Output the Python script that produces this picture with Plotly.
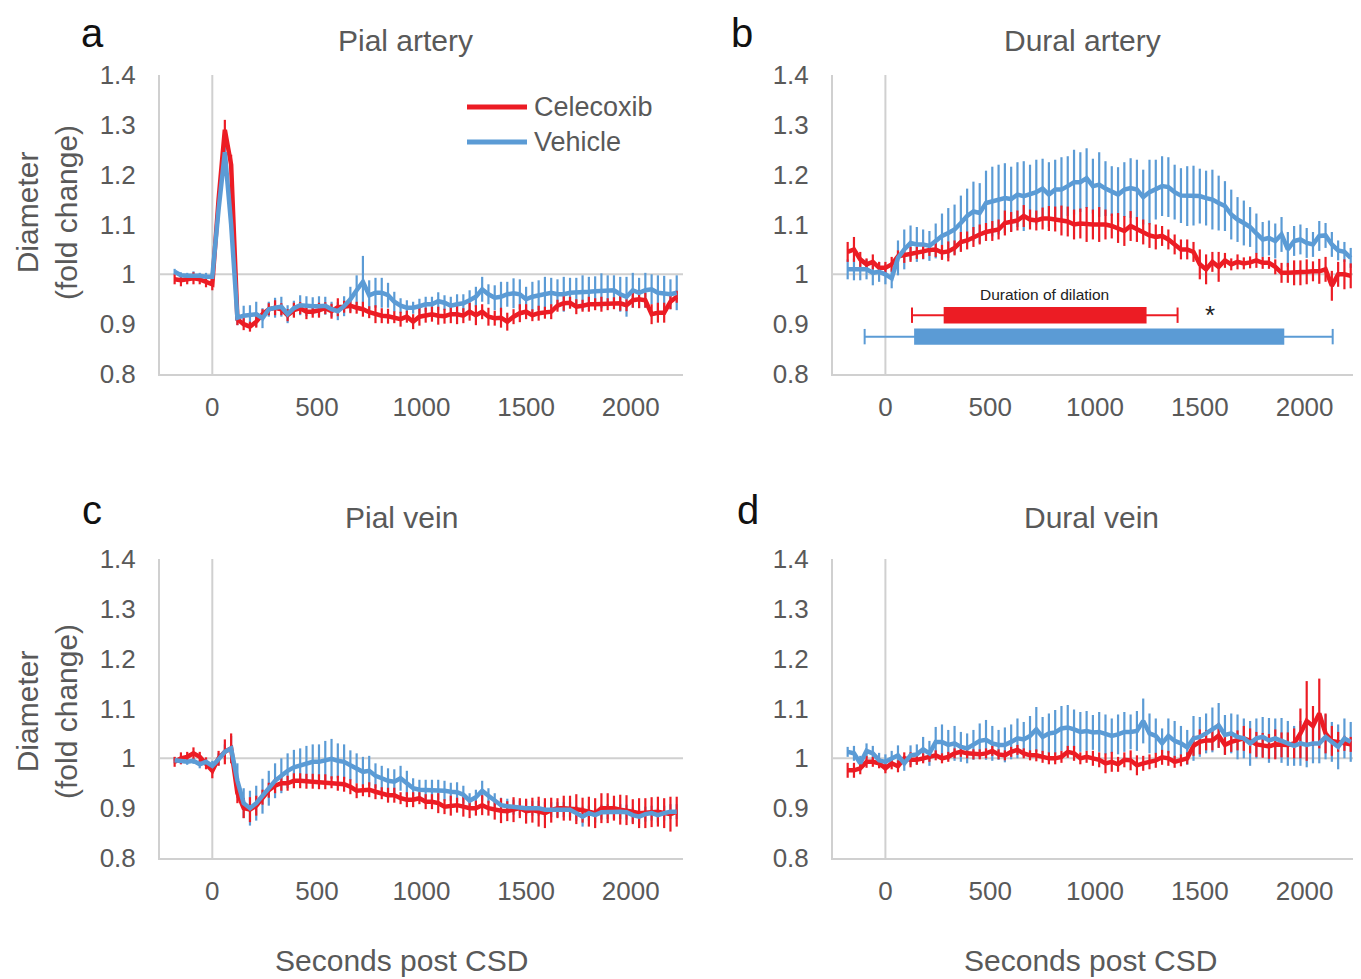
import plotly.graph_objects as go
from plotly.subplots import make_subplots

# time axis, seconds relative to CSD onset (30 s sampling)
seconds = list(range(-180, 2221, 30))

# ---- a: pial artery
pial_artery_celecoxib = [
    0.990, 0.988, 0.990, 0.992, 0.990, 0.986, 0.980,
    1.150, 1.290, 1.220, 0.910,
    0.900, 0.895, 0.905, 0.920, 0.930, 0.933, 0.930, 0.918, 0.928, 0.932,
    0.925, 0.925, 0.928, 0.932, 0.926, 0.934, 0.935, 0.937, 0.933, 0.930,
    0.924, 0.920, 0.917, 0.916, 0.914, 0.910, 0.915, 0.905, 0.915, 0.918,
    0.920, 0.917, 0.916, 0.920, 0.920, 0.917, 0.925, 0.918, 0.925, 0.915,
    0.912, 0.913, 0.905, 0.915, 0.922, 0.925, 0.918, 0.922, 0.923, 0.925,
    0.937, 0.942, 0.943, 0.935, 0.937, 0.940, 0.940, 0.940, 0.940, 0.942,
    0.942, 0.938, 0.948, 0.950, 0.948, 0.920, 0.923, 0.923, 0.945, 0.955]
pial_artery_celecoxib_sem = [
    0.010, 0.012, 0.010, 0.012, 0.010, 0.012, 0.012,
    0.015, 0.020, 0.020, 0.012,
    0.012, 0.010, 0.012, 0.010, 0.012, 0.015, 0.012, 0.012, 0.015, 0.012,
    0.015, 0.012, 0.015, 0.012, 0.015, 0.018, 0.012, 0.015, 0.012, 0.015,
    0.012, 0.018, 0.015, 0.015, 0.012, 0.015, 0.012, 0.015, 0.018, 0.015,
    0.015, 0.018, 0.015, 0.018, 0.020, 0.015, 0.018, 0.020, 0.015, 0.018,
    0.015, 0.020, 0.018, 0.015, 0.018, 0.015, 0.012, 0.015, 0.012, 0.015,
    0.012, 0.015, 0.012, 0.015, 0.012, 0.015, 0.012, 0.015, 0.012, 0.012,
    0.015, 0.012, 0.015, 0.018, 0.015, 0.020, 0.020, 0.020, 0.015, 0.012]
pial_artery_vehicle = [
    1.005, 0.998, 0.997, 0.998, 0.997, 0.995, 0.995,
    1.130, 1.245, 1.100, 0.913,
    0.917, 0.918, 0.920, 0.912, 0.930, 0.933, 0.935, 0.920, 0.932, 0.938,
    0.936, 0.936, 0.936, 0.937, 0.930, 0.926, 0.936, 0.950, 0.968, 0.985,
    0.958, 0.963, 0.963, 0.958, 0.945, 0.937, 0.933, 0.933, 0.936, 0.940,
    0.940, 0.946, 0.943, 0.937, 0.940, 0.942, 0.948, 0.955, 0.970, 0.960,
    0.953, 0.955, 0.960, 0.962, 0.960, 0.950, 0.955, 0.958, 0.960, 0.963,
    0.960, 0.960, 0.963, 0.963, 0.963, 0.965, 0.966, 0.967, 0.968, 0.968,
    0.960, 0.955, 0.968, 0.963, 0.968, 0.970, 0.963, 0.962, 0.960, 0.963]
pial_artery_vehicle_sem = [
    0.006, 0.006, 0.006, 0.008, 0.006, 0.008, 0.008,
    0.010, 0.015, 0.015, 0.015,
    0.020, 0.020, 0.025, 0.020, 0.015, 0.020, 0.020, 0.018, 0.015, 0.020,
    0.020, 0.018, 0.020, 0.018, 0.015, 0.018, 0.020, 0.025, 0.030, 0.052,
    0.030, 0.030, 0.030, 0.025, 0.020, 0.015, 0.015, 0.012, 0.015, 0.015,
    0.015, 0.018, 0.015, 0.018, 0.020, 0.018, 0.020, 0.020, 0.025, 0.020,
    0.025, 0.030, 0.025, 0.030, 0.030, 0.025, 0.030, 0.030, 0.035, 0.030,
    0.030, 0.035, 0.030, 0.030, 0.035, 0.030, 0.030, 0.035, 0.030, 0.030,
    0.035, 0.040, 0.035, 0.030, 0.035, 0.030, 0.035, 0.035, 0.030, 0.035]

# ---- b: dural artery
dural_artery_celecoxib = [
    1.045, 1.050, 1.030, 1.020, 1.025, 1.013, 1.013,
    1.020, 1.036, 1.038, 1.040, 1.043, 1.046, 1.049, 1.050, 1.044, 1.046,
    1.053, 1.065, 1.068, 1.075, 1.080, 1.085, 1.087, 1.090, 1.103, 1.105,
    1.108, 1.117, 1.110, 1.108, 1.112, 1.112, 1.111, 1.108, 1.106, 1.100,
    1.102, 1.100, 1.100, 1.100, 1.100, 1.097, 1.093, 1.087, 1.097, 1.090,
    1.085, 1.078, 1.075, 1.077, 1.070, 1.060, 1.050, 1.050, 1.045, 1.020,
    1.010, 1.025, 1.015, 1.028, 1.020, 1.025, 1.022, 1.024, 1.028, 1.023,
    1.023, 1.015, 1.003, 1.003, 1.003, 1.003, 1.005, 1.006, 1.006, 1.010,
    0.977, 1.000, 1.000, 0.997]
dural_artery_celecoxib_sem = [
    0.020, 0.025, 0.015, 0.012, 0.015, 0.012, 0.012,
    0.015, 0.012, 0.015, 0.015, 0.012, 0.015, 0.012, 0.015, 0.015, 0.020,
    0.015, 0.020, 0.018, 0.020, 0.020, 0.018, 0.020, 0.020, 0.025, 0.020,
    0.020, 0.022, 0.020, 0.020, 0.022, 0.025, 0.025, 0.030, 0.030, 0.030,
    0.030, 0.035, 0.030, 0.035, 0.030, 0.025, 0.030, 0.030, 0.030, 0.025,
    0.025, 0.025, 0.025, 0.020, 0.020, 0.020, 0.020, 0.020, 0.020, 0.030,
    0.030, 0.020, 0.030, 0.015, 0.012, 0.015, 0.012, 0.012, 0.015, 0.012,
    0.012, 0.015, 0.020, 0.020, 0.025, 0.025, 0.025, 0.020, 0.025, 0.025,
    0.030, 0.025, 0.030, 0.025]
dural_artery_vehicle = [
    1.010, 1.010, 1.008, 1.010, 1.003, 1.005, 1.000,
    0.992, 1.033, 1.050, 1.063, 1.060, 1.060, 1.057, 1.067, 1.077, 1.083,
    1.090, 1.103, 1.117, 1.126, 1.123, 1.143, 1.146, 1.150, 1.153, 1.151,
    1.160, 1.157, 1.160, 1.165, 1.172, 1.160, 1.170, 1.170, 1.177, 1.185,
    1.185, 1.193, 1.177, 1.180, 1.172, 1.167, 1.160, 1.170, 1.173, 1.170,
    1.155, 1.165, 1.170, 1.177, 1.175, 1.165, 1.158, 1.157, 1.158, 1.157,
    1.153, 1.150, 1.143, 1.137, 1.120, 1.110, 1.103, 1.095, 1.082, 1.070,
    1.073, 1.067, 1.080, 1.050, 1.067, 1.070, 1.063, 1.060, 1.077, 1.078,
    1.060, 1.048, 1.045, 1.033]
dural_artery_vehicle_sem = [
    0.020, 0.022, 0.020, 0.020, 0.025, 0.020, 0.020,
    0.020, 0.035, 0.040, 0.035, 0.035, 0.030, 0.030, 0.035, 0.045, 0.050,
    0.050, 0.055, 0.055, 0.060, 0.060, 0.065, 0.070, 0.070, 0.070, 0.065,
    0.065, 0.070, 0.060, 0.065, 0.060, 0.065, 0.060, 0.065, 0.060, 0.065,
    0.060, 0.060, 0.055, 0.065, 0.055, 0.050, 0.055, 0.055, 0.060, 0.060,
    0.055, 0.065, 0.060, 0.060, 0.060, 0.055, 0.055, 0.060, 0.060, 0.055,
    0.055, 0.060, 0.055, 0.050, 0.050, 0.045, 0.045, 0.040, 0.040, 0.035,
    0.035, 0.035, 0.035, 0.035, 0.030, 0.030, 0.030, 0.025, 0.030, 0.025,
    0.025, 0.020, 0.020, 0.020]

# duration of dilation (s): onset, offset and their SD
dilation_onset = [278, 137]      # celecoxib, vehicle
dilation_offset = [1246, 1903]
dilation_onset_sd = [151, 236]
dilation_offset_sd = [148, 231]

# ---- c: pial vein
pial_vein_celecoxib = [
    0.993, 1.000, 1.003, 1.010, 1.003, 0.990, 0.975,
    1.000, 1.013, 1.020, 0.930, 0.900, 0.897, 0.905, 0.922, 0.936, 0.945,
    0.950, 0.950, 0.955, 0.955, 0.954, 0.954, 0.953, 0.953, 0.952, 0.950,
    0.948, 0.943, 0.935, 0.936, 0.937, 0.933, 0.930, 0.926, 0.926, 0.920,
    0.917, 0.917, 0.920, 0.913, 0.913, 0.910, 0.903, 0.905, 0.906, 0.903,
    0.900, 0.900, 0.906, 0.900, 0.897, 0.895, 0.894, 0.897, 0.900, 0.894,
    0.896, 0.893, 0.890, 0.896, 0.900, 0.900, 0.900, 0.898, 0.896, 0.893,
    0.890, 0.900, 0.900, 0.900, 0.897, 0.896, 0.893, 0.890, 0.890, 0.892,
    0.893, 0.890, 0.888, 0.893]
pial_vein_celecoxib_sem = [
    0.010, 0.012, 0.010, 0.012, 0.010, 0.012, 0.015,
    0.015, 0.025, 0.030, 0.020, 0.020, 0.025, 0.020, 0.015, 0.015, 0.015,
    0.015, 0.015, 0.015, 0.015, 0.015, 0.015, 0.015, 0.015, 0.012, 0.015,
    0.015, 0.015, 0.015, 0.012, 0.015, 0.015, 0.012, 0.015, 0.015, 0.012,
    0.015, 0.015, 0.012, 0.015, 0.015, 0.020, 0.015, 0.020, 0.015, 0.020,
    0.020, 0.015, 0.020, 0.015, 0.020, 0.025, 0.020, 0.025, 0.020, 0.025,
    0.025, 0.030, 0.030, 0.025, 0.020, 0.025, 0.025, 0.030, 0.025, 0.030,
    0.030, 0.030, 0.030, 0.025, 0.030, 0.030, 0.025, 0.030, 0.030, 0.030,
    0.030, 0.030, 0.035, 0.030]
pial_vein_vehicle = [
    0.996, 0.995, 0.993, 0.995, 0.988, 0.993, 0.985,
    0.998, 1.013, 1.020, 0.955, 0.910, 0.900, 0.910, 0.924, 0.940, 0.955,
    0.965, 0.975, 0.982, 0.985, 0.990, 0.993, 0.993, 0.995, 0.999, 0.995,
    0.993, 0.986, 0.980, 0.973, 0.975, 0.965, 0.960, 0.955, 0.953, 0.960,
    0.950, 0.940, 0.937, 0.937, 0.937, 0.937, 0.935, 0.933, 0.932, 0.927,
    0.915, 0.922, 0.935, 0.925, 0.915, 0.906, 0.904, 0.902, 0.900, 0.900,
    0.900, 0.900, 0.897, 0.897, 0.897, 0.897, 0.897, 0.890, 0.883, 0.890,
    0.886, 0.892, 0.893, 0.893, 0.893, 0.892, 0.886, 0.883, 0.888, 0.890,
    0.886, 0.890, 0.893, 0.893]
pial_vein_vehicle_sem = [
    0.006, 0.006, 0.006, 0.006, 0.008, 0.006, 0.010,
    0.012, 0.015, 0.025, 0.035, 0.030, 0.035, 0.035, 0.035, 0.035, 0.035,
    0.035, 0.035, 0.035, 0.035, 0.035, 0.035, 0.035, 0.040, 0.040, 0.035,
    0.035, 0.030, 0.030, 0.030, 0.030, 0.025, 0.025, 0.025, 0.025, 0.025,
    0.025, 0.020, 0.020, 0.020, 0.020, 0.020, 0.020, 0.018, 0.020, 0.018,
    0.015, 0.015, 0.020, 0.015, 0.015, 0.015, 0.015, 0.015, 0.015, 0.015,
    0.015, 0.015, 0.015, 0.015, 0.015, 0.015, 0.015, 0.015, 0.020, 0.015,
    0.015, 0.015, 0.015, 0.015, 0.015, 0.015, 0.015, 0.015, 0.015, 0.015,
    0.015, 0.015, 0.015, 0.015]

# ---- d: dural vein
dural_vein_celecoxib = [
    0.976, 0.976, 0.980, 0.993, 0.993, 0.990, 0.980,
    0.990, 0.984, 1.000, 0.997, 0.997, 1.000, 1.003, 1.006, 1.000, 1.003,
    1.010, 1.013, 1.010, 1.008, 1.008, 1.010, 1.015, 1.008, 1.006, 1.013,
    1.017, 1.010, 1.006, 1.006, 1.003, 1.000, 1.000, 1.003, 1.013, 1.010,
    1.000, 1.003, 1.000, 0.997, 0.990, 0.993, 0.988, 0.997, 0.996, 0.986,
    0.990, 0.993, 0.996, 1.002, 1.000, 0.993, 0.996, 1.000, 1.025, 1.033,
    1.036, 1.036, 1.046, 1.027, 1.033, 1.036, 1.040, 1.035, 1.028, 1.026,
    1.024, 1.028, 1.027, 1.027, 1.030, 1.050, 1.075, 1.065, 1.090, 1.050,
    1.035, 1.033, 1.030, 1.028]
dural_vein_celecoxib_sem = [
    0.015, 0.015, 0.012, 0.012, 0.010, 0.010, 0.010,
    0.012, 0.012, 0.012, 0.015, 0.010, 0.010, 0.010, 0.010, 0.010, 0.010,
    0.010, 0.010, 0.010, 0.010, 0.010, 0.010, 0.010, 0.010, 0.010, 0.010,
    0.010, 0.010, 0.010, 0.012, 0.012, 0.012, 0.012, 0.012, 0.012, 0.015,
    0.012, 0.012, 0.015, 0.015, 0.020, 0.020, 0.015, 0.015, 0.020, 0.020,
    0.015, 0.015, 0.015, 0.015, 0.015, 0.012, 0.012, 0.012, 0.020, 0.025,
    0.020, 0.020, 0.025, 0.020, 0.020, 0.020, 0.025, 0.025, 0.025, 0.025,
    0.025, 0.030, 0.025, 0.025, 0.030, 0.050, 0.080, 0.040, 0.070, 0.040,
    0.030, 0.020, 0.015, 0.015]
dural_vein_vehicle = [
    1.013, 1.010, 0.990, 1.015, 1.010, 0.996, 0.993,
    1.000, 1.006, 0.990, 1.006, 1.008, 1.018, 1.010, 1.033, 1.033, 1.027,
    1.030, 1.023, 1.020, 1.027, 1.035, 1.037, 1.030, 1.027, 1.027, 1.033,
    1.040, 1.038, 1.045, 1.058, 1.043, 1.050, 1.052, 1.060, 1.062, 1.058,
    1.053, 1.055, 1.052, 1.053, 1.048, 1.045, 1.048, 1.053, 1.053, 1.055,
    1.075, 1.050, 1.045, 1.030, 1.045, 1.035, 1.030, 1.022, 1.040, 1.043,
    1.050, 1.057, 1.066, 1.047, 1.050, 1.043, 1.040, 1.030, 1.040, 1.043,
    1.036, 1.040, 1.036, 1.030, 1.025, 1.030, 1.027, 1.030, 1.030, 1.043,
    1.033, 1.023, 1.040, 1.033]
dural_vein_vehicle_sem = [
    0.010, 0.015, 0.015, 0.015, 0.015, 0.015, 0.015,
    0.015, 0.020, 0.015, 0.020, 0.020, 0.025, 0.025, 0.030, 0.035, 0.030,
    0.035, 0.030, 0.030, 0.030, 0.035, 0.040, 0.035, 0.030, 0.035, 0.035,
    0.040, 0.035, 0.040, 0.045, 0.040, 0.040, 0.045, 0.045, 0.045, 0.040,
    0.040, 0.040, 0.035, 0.040, 0.040, 0.035, 0.040, 0.040, 0.035, 0.040,
    0.045, 0.040, 0.035, 0.030, 0.035, 0.040, 0.035, 0.035, 0.045, 0.040,
    0.040, 0.045, 0.045, 0.040, 0.040, 0.045, 0.040, 0.045, 0.040, 0.040,
    0.045, 0.040, 0.045, 0.045, 0.040, 0.045, 0.045, 0.040, 0.040, 0.045,
    0.040, 0.045, 0.040, 0.040]

panel_titles = ["Pial artery", "Dural artery", "Pial vein", "Dural vein"]
panel_letters = ["a", "b", "c", "d"]
x_ticks = [0, 500, 1000, 1500, 2000]

RED = "#EC1C24"
BLUE = "#5B9BD5"
GREY_TXT = "#595959"
AXIS_GREY = "#D0D0D0"
FONT = "Liberation Sans, Arial, sans-serif"

W, H = 1361, 979
PAGE_OFFSET = 8  # the page body adds 8 px before the figure


def px_x(x):
    return (x - PAGE_OFFSET) / W


def px_y(y):
    return 1 - (y - PAGE_OFFSET) / H


panels = [
    (1, 1, pial_artery_celecoxib, pial_artery_celecoxib_sem, pial_artery_vehicle, pial_artery_vehicle_sem),
    (1, 2, dural_artery_celecoxib, dural_artery_celecoxib_sem, dural_artery_vehicle, dural_artery_vehicle_sem),
    (2, 1, pial_vein_celecoxib, pial_vein_celecoxib_sem, pial_vein_vehicle, pial_vein_vehicle_sem),
    (2, 2, dural_vein_celecoxib, dural_vein_celecoxib_sem, dural_vein_vehicle, dural_vein_vehicle_sem),
]
for p in panels:
    for arr in p[2:]:
        assert len(arr) == len(seconds), (p[:2], len(arr))

fig = make_subplots(rows=2, cols=2)

for row, col, cel, cel_sem, veh, veh_sem in panels:
    # error bars first (vehicle under celecoxib), then the lines on top
    for vals, sem, color in [(veh, veh_sem, BLUE), (cel, cel_sem, RED)]:
        fig.add_trace(go.Scatter(
            x=seconds, y=vals, mode="markers",
            marker=dict(size=1, opacity=0),
            error_y=dict(type="data", array=sem, visible=True, color=color, thickness=2.2, width=0),
            showlegend=False, hoverinfo="skip"), row=row, col=col)
    for vals, color, name in [(cel, RED, "Celecoxib"), (veh, BLUE, "Vehicle")]:
        fig.add_trace(go.Scatter(
            x=seconds, y=vals, mode="lines", name=name,
            line=dict(color=color, width=4.5),
            showlegend=False), row=row, col=col)

# duration of dilation bars in panel b
bar_levels = [0.918, 0.875]
for i, color in enumerate([RED, BLUE]):
    fig.add_trace(go.Bar(
        y=[bar_levels[i]], x=[dilation_offset[i] - dilation_onset[i]], base=[dilation_onset[i]],
        orientation="h", width=0.033, marker=dict(color=color, line=dict(width=0)),
        showlegend=False), row=1, col=2)
    fig.add_trace(go.Scatter(
        x=[dilation_onset[i] - dilation_onset_sd[i], dilation_offset[i] + dilation_offset_sd[i]],
        y=[bar_levels[i], bar_levels[i]], mode="lines+markers",
        line=dict(color=color, width=2),
        marker=dict(symbol="line-ns", size=11, line=dict(color=color, width=2)),
        showlegend=False), row=1, col=2)

# axes
x_domains = [[px_x(160), px_x(683)], [px_x(833), px_x(1357)]]
y_domains = [[px_y(374), px_y(75)], [px_y(858), px_y(559)]]
for row in (1, 2):
    for col in (1, 2):
        fig.update_xaxes(
            range=[-250, 2250], tickvals=x_ticks, domain=x_domains[col - 1],
            showgrid=False, zeroline=False, showline=True, linecolor=AXIS_GREY, linewidth=2,
            ticks="", ticklabelstandoff=9, automargin=False,
            tickfont=dict(family=FONT, size=26, color=GREY_TXT), row=row, col=col)
        fig.update_yaxes(
            range=[0.8, 1.4], tick0=0.8, dtick=0.1, domain=y_domains[row - 1],
            showgrid=False, zeroline=False, showline=True, linecolor=AXIS_GREY, linewidth=2,
            ticks="", ticklabelstandoff=17, automargin=False,
            tickfont=dict(family=FONT, size=26, color=GREY_TXT), row=row, col=col)

# reference lines at t = 0 and fold change = 1
for ax in ["", "2", "3", "4"]:
    fig.add_shape(type="line", xref="x" + ax, yref=("y" + ax) + " domain",
                  x0=0, x1=0, y0=0, y1=1, line=dict(color=AXIS_GREY, width=2), layer="below")
    fig.add_shape(type="line", xref=("x" + ax) + " domain", yref="y" + ax,
                  x0=0, x1=1, y0=1, y1=1, line=dict(color=AXIS_GREY, width=2), layer="below")

annotations = []
title_pos = [(405, 40), (1082, 40), (402, 517), (1091, 517)]
letter_pos = [(92, 33), (742, 33), (92, 510), (748, 510)]
for (tx, ty), title in zip(title_pos, panel_titles):
    annotations.append(dict(x=px_x(tx), y=px_y(ty), xref="paper", yref="paper",
                            text=title, showarrow=False, xanchor="center", yanchor="middle",
                            font=dict(family=FONT, size=30, color=GREY_TXT)))
for (lx, ly), letter in zip(letter_pos, panel_letters):
    annotations.append(dict(x=px_x(lx), y=px_y(ly), xref="paper", yref="paper",
                            text=letter, showarrow=False, xanchor="center", yanchor="middle",
                            font=dict(family=FONT, size=40, color="#111111")))
for cy in (213, 712):
    annotations.append(dict(x=px_x(47), y=px_y(cy), xref="paper", yref="paper",
                            text="Diameter<br>(fold change)", textangle=-90, showarrow=False,
                            xanchor="center", yanchor="middle",
                            font=dict(family=FONT, size=30, color=GREY_TXT)))
for cx in (402, 1090):
    annotations.append(dict(x=px_x(cx), y=px_y(960), xref="paper", yref="paper",
                            text="Seconds post CSD", showarrow=False,
                            xanchor="center", yanchor="middle",
                            font=dict(family=FONT, size=30, color=GREY_TXT)))

# text in panel b
annotations.append(dict(x=759, y=0.96, xref="x2", yref="y2", text="Duration of dilation",
                        showarrow=False, font=dict(family=FONT, size=15.5, color="#222222")))
annotations.append(dict(x=1547, y=0.918, xref="x2", yref="y2", text="*",
                        showarrow=False, font=dict(family=FONT, size=26, color="#222222")))

# legend drawn in panel a
legend_items = [("Celecoxib", RED, 107), ("Vehicle", BLUE, 142)]
for name, color, ly in legend_items:
    fig.add_shape(type="line", xref="paper", yref="paper",
                  x0=px_x(467), x1=px_x(527), y0=px_y(ly), y1=px_y(ly),
                  line=dict(color=color, width=5))
    annotations.append(dict(x=px_x(532), y=px_y(ly), xref="paper", yref="paper", text=name,
                            showarrow=False, xanchor="left", yanchor="middle",
                            font=dict(family=FONT, size=27, color=GREY_TXT)))

fig.update_layout(
    width=W, height=H,
    margin=dict(l=0, r=0, t=0, b=0, autoexpand=False),
    paper_bgcolor="white", plot_bgcolor="white",
    showlegend=False,
    annotations=annotations,
)

fig.write_html("out.html")
